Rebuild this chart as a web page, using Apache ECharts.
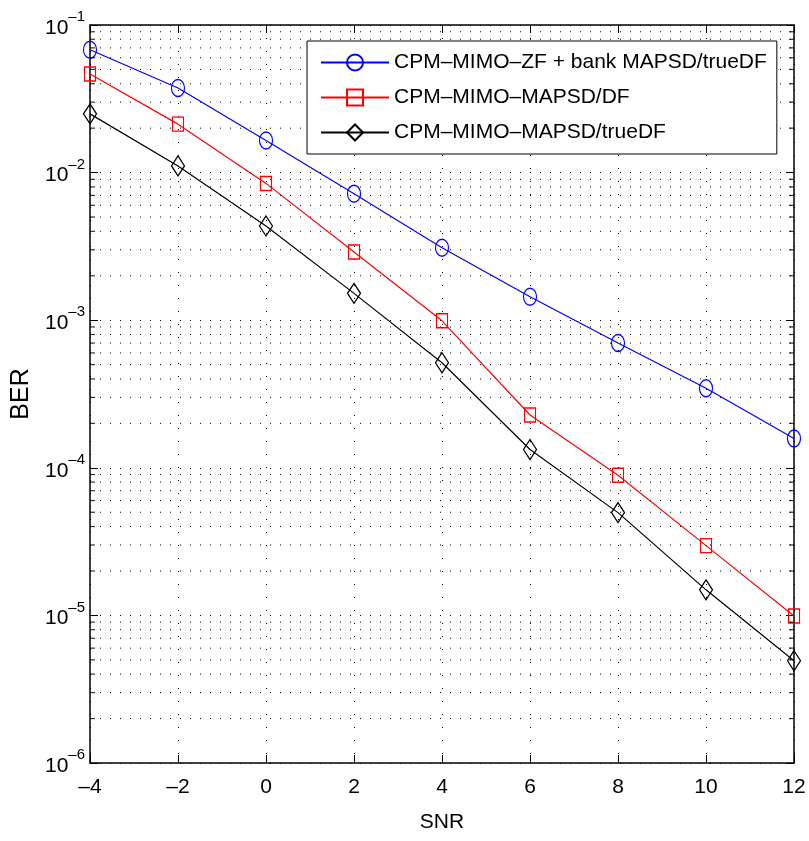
<!DOCTYPE html>
<html>
<head>
<meta charset="utf-8">
<script src="https://cdn.jsdelivr.net/npm/echarts@6/dist/echarts.min.js"></script>
<style>html,body{margin:0;padding:0;background:#fff;}#c{width:809px;height:841px;}</style>
</head>
<body>
<div id="c"></div>
<script>
const snr = [-4, -2, 0, 2, 4, 6, 8, 10, 12];
const berZF = [0.068, 0.0374, 0.0165, 0.0072, 0.0031, 0.00144, 0.0007, 0.000346, 0.000158];
const berDF = [0.0466, 0.0213, 0.00845, 0.0029, 0.00099, 0.000228, 0.000089, 0.0000297, 0.0000099];
const berTrue = [0.025, 0.0111, 0.00435, 0.00152, 0.000515, 0.000133, 0.0000497, 0.0000149, 0.00000493];
const seriesNames = ['CPM–MIMO–ZF + bank MAPSD/trueDF', 'CPM–MIMO–MAPSD/DF', 'CPM–MIMO–MAPSD/trueDF'];
const xTicks = [-4, -2, 0, 2, 4, 6, 8, 10, 12];
const decadeExponents = [-6, -5, -4, -3, -2, -1];
const minorMantissas = [2, 3, 4, 5, 6, 7, 8, 9];

const FONT = 'Liberation Sans';
const minorVals = [];
decadeExponents.slice(0, -1).forEach(e => minorMantissas.forEach(m => minorVals.push(m * Math.pow(10, e))));
const xMin = xTicks[0], xMax = xTicks[xTicks.length - 1];

function pairs(ys) { return snr.map((x, i) => [x, ys[i]]); }
function dash(v) { return v < 0 ? '–' + Math.abs(v) : String(v); }

const dotted = { color: '#000', width: 1, type: [1, 9] };

const mkLine = (name, data, color, symbol, size) => ({
  name, type: 'line', data: pairs(data), symbol, symbolSize: size, clip: false,
  lineStyle: { color, width: 1.2 },
  itemStyle: { color: 'transparent', borderColor: color, borderWidth: 1.3 },
  emphasis: { disabled: true }, z: 5
});

const minorGridSeries = minorVals.map(v => ({
  type: 'line', silent: true, symbol: 'none', z: 1,
  data: [[xMin, v], [xMax, v]],
  lineStyle: dotted, emphasis: { disabled: true }
}));

const chart = echarts.init(document.getElementById('c'));
chart.setOption({
  animation: false,
  backgroundColor: '#fff',
  textStyle: { fontFamily: FONT, color: '#000' },
  grid: { left: 90, right: 15, top: 25, bottom: 78 },
  legend: {
    data: seriesNames, orient: 'vertical', left: 307, top: 41,
    padding: [11, 10, 11, 13], itemGap: 14, itemWidth: 68, itemHeight: 20,
    borderColor: '#000', borderWidth: 1, backgroundColor: '#fff', borderRadius: 0,
    textStyle: { fontFamily: FONT, fontSize: 21, color: '#000' }, selectedMode: false
  },
  xAxis: [{
    type: 'value', min: -4, max: 12, interval: 2,
    name: 'SNR', nameLocation: 'middle', nameGap: 49,
    nameTextStyle: { fontFamily: FONT, fontSize: 21, color: '#000' },
    axisLine: { show: true, onZero: false, lineStyle: { color: '#000', width: 1.5 } },
    axisTick: { show: true, inside: true, length: 8, lineStyle: { color: '#000', width: 1 } },
    axisLabel: { margin: 14, fontFamily: FONT, fontSize: 21, color: '#000', formatter: dash },
    splitLine: { show: true, lineStyle: { color: '#000', width: 1, type: [1, 12] } }
  }, {
    type: 'value', min: -4, max: 12, interval: 2, position: 'top',
    axisLine: { show: true, onZero: false, lineStyle: { color: '#000', width: 1.5 } },
    axisTick: { show: true, inside: true, length: 8, lineStyle: { color: '#000', width: 1 } },
    axisLabel: { show: false }, splitLine: { show: false }
  }],
  yAxis: [{
    type: 'log', logBase: 10, min: 1e-6, max: 1e-1, interval: 1,
    name: 'BER', nameLocation: 'middle', nameGap: 56,
    nameTextStyle: { fontFamily: FONT, fontSize: 25, color: '#000' },
    axisLine: { show: true, onZero: false, lineStyle: { color: '#000', width: 1.5 } },
    axisTick: { show: true, inside: true, length: 8, lineStyle: { color: '#000', width: 1 } },
    axisLabel: {
      margin: 5, color: '#000',
      formatter: v => '{b|10}{s|–' + Math.abs(Math.round(Math.log10(v))) + '}',
      rich: {
        b: { fontFamily: FONT, fontSize: 21, lineHeight: 21, color: '#000', padding: [6, 0, 0, 0] },
        s: { fontFamily: FONT, fontSize: 15, lineHeight: 15, color: '#000', padding: [0, 0, 16, 0] }
      }
    },
    splitLine: { show: true, lineStyle: dotted }
  }, {
    type: 'log', logBase: 10, min: 1e-6, max: 1e-1, interval: 1, position: 'right',
    axisLine: { show: true, onZero: false, lineStyle: { color: '#000', width: 1.5 } },
    axisTick: { show: true, inside: true, length: 8, lineStyle: { color: '#000', width: 1 } },
    axisLabel: { show: false }, splitLine: { show: false }
  }],
  series: minorGridSeries.concat([
    {
      type: 'scatter', silent: true, clip: false, z: 6,
      symbol: 'rect', symbolSize: [5, 1.2], symbolOffset: [2.5, 0],
      itemStyle: { color: '#000' }, emphasis: { disabled: true },
      data: minorVals.map(v => [xMin, v])
    },
    {
      type: 'scatter', silent: true, clip: false, z: 6,
      symbol: 'rect', symbolSize: [5, 1.2], symbolOffset: [-2.5, 0],
      itemStyle: { color: '#000' }, emphasis: { disabled: true },
      data: minorVals.map(v => [xMax, v])
    },
    mkLine(seriesNames[0], berZF, '#0000ff', 'circle', [13, 17]),
    mkLine(seriesNames[1], berDF, '#ff0000', 'rect', [11, 14]),
    mkLine(seriesNames[2], berTrue, '#000000', 'diamond', [13, 20])
  ])
});
</script>
</body>
</html>
